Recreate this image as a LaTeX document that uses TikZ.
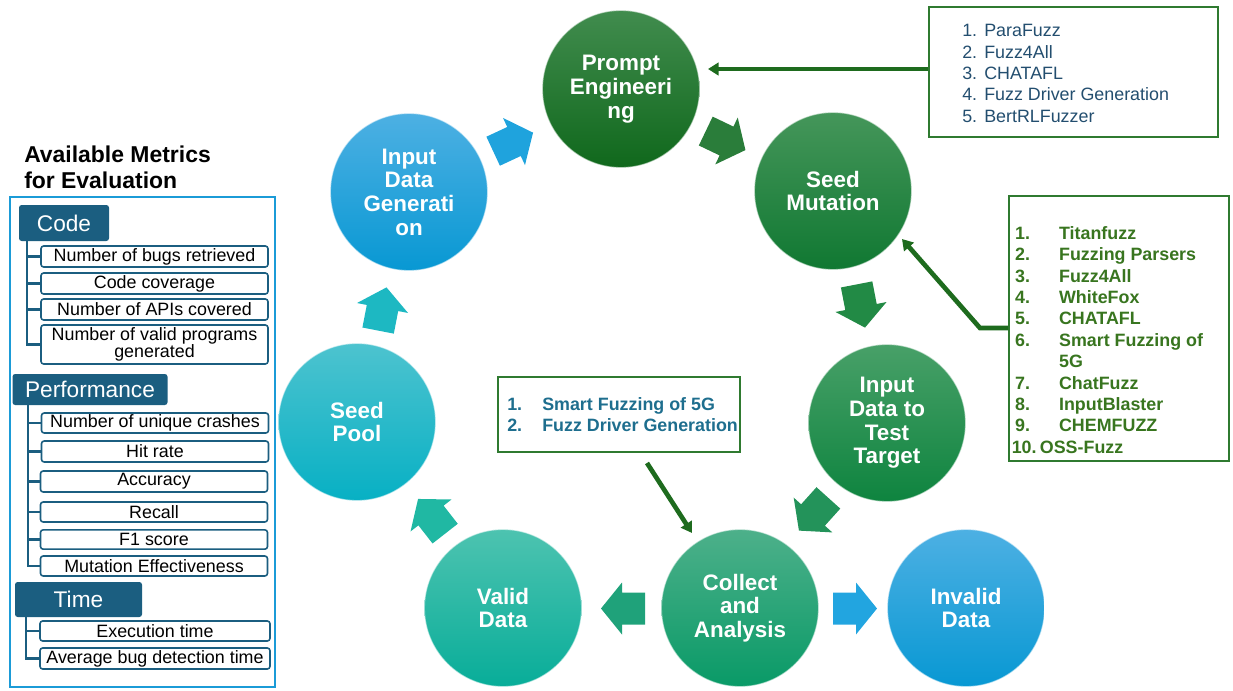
\documentclass[tikz,border=0pt]{standalone}
\usepackage{fontspec}
\setmainfont{Liberation Sans}
\usetikzlibrary{arrows.meta}
\definecolor{hdrc}{HTML}{1B5E80}
\definecolor{panelc}{HTML}{1B9BD7}
\definecolor{boxg}{HTML}{2F7A30}
\definecolor{lineg}{HTML}{1E6B1E}
\definecolor{trc}{HTML}{234E6F}
\definecolor{rbc}{HTML}{38751F}
\definecolor{mbc}{HTML}{1E6E8E}
\definecolor{peT}{HTML}{418C4E}\definecolor{peB}{HTML}{10681C}
\definecolor{smT}{HTML}{45965A}\definecolor{smB}{HTML}{107832}
\definecolor{itT}{HTML}{48A068}\definecolor{itB}{HTML}{0E843F}
\definecolor{caT}{HTML}{4DB08A}\definecolor{caB}{HTML}{099A67}
\definecolor{vdT}{HTML}{4DC3B0}\definecolor{vdB}{HTML}{08AD99}
\definecolor{spT}{HTML}{4DC3CF}\definecolor{spB}{HTML}{07B0C4}
\definecolor{igT}{HTML}{4DB0E3}\definecolor{igB}{HTML}{0898D3}
\definecolor{aA}{HTML}{1FA3DD}
\definecolor{aB}{HTML}{2A7D3A}
\definecolor{aC}{HTML}{228A45}
\definecolor{aD}{HTML}{23935A}
\definecolor{aE}{HTML}{1FA27A}
\definecolor{aF}{HTML}{22A5E0}
\definecolor{aG}{HTML}{20B8A3}
\definecolor{aH}{HTML}{1DB8C2}
\newcommand\blkarrow[4]{\fill[#4,shift={(#1,#2)},rotate=#3] (-23,-16) -- (0,-16) -- (0,-26) -- (21,0) -- (0,26) -- (0,16) -- (-23,16) -- cycle;}
\begin{document}
\begin{tikzpicture}[x=0.75pt,y=-0.75pt,
 circ/.style={circle,minimum size=118pt,inner sep=0pt,align=center,text=white,font=\bfseries\fontsize{16.8}{17.8}\selectfont,draw=white,draw opacity=0.55,line width=0.9pt},
 gline/.style={draw=lineg,line width=3.5pt,-{Triangle[length=8pt,width=9.5pt]}},
 hdr/.style={fill=hdrc,rounded corners=2pt,text=white,font=\fontsize{17}{20}\selectfont,inner sep=0pt},
 item/.style={draw=hdrc,line width=1.2pt,rounded corners=2pt,fill=white,inner sep=0pt,align=center,font=\fontsize{13.4}{12.6}\selectfont,minimum width=170.25pt},
 trunk/.style={draw=hdrc,line width=1.6pt},
 lbox/.style={draw=boxg,line width=1.5pt,inner sep=0pt}]
\useasboundingbox (0,0) rectangle (1233,690);
% ---- left panel ----
\node[anchor=north west,inner sep=0pt,align=left,font=\bfseries\fontsize{17.2}{19.5}\selectfont] (title) at (24,146) {Available Metrics\\for Evaluation};
\node[draw=panelc,line width=1.5pt,minimum width=198.75pt,minimum height=367.5pt,inner sep=0pt] (panel) at (142.5,442) {};
\node[hdr,minimum width=67.5pt,minimum height=27pt] (code) at (64,223) {Code};
\node[hdr,minimum width=116.25pt,minimum height=23.25pt] (perf) at (90,389.5) {Performance};
\node[hdr,minimum width=95.25pt,minimum height=26.25pt] (time) at (78.5,599.5) {Time};
\node[item,minimum height=15.75pt] (c1) at (154.5,256.5) {Number of bugs retrieved};
\node[item,minimum height=15.75pt] (c2) at (154.5,283.5) {Code coverage};
\node[item,minimum height=15.75pt] (c3) at (154.5,309.5) {Number of APIs covered};
\node[item,minimum height=29.25pt] (c4) at (154.5,344.5) {Number of valid programs\\generated};
\node[item,minimum height=15pt] (p1) at (155,423) {Number of unique crashes};
\node[item,minimum height=15.75pt] (p2) at (155,451.5) {Hit rate};
\node[item,minimum height=15.75pt] (p3) at (154,481.5) {Accuracy};
\node[item,minimum height=15pt] (p4) at (154,512) {Recall};
\node[item,minimum height=14.5pt] (p5) at (154,539.5) {F1 score};
\node[item,minimum height=15pt] (p6) at (154,566) {Mutation Effectiveness};
\node[item,minimum height=15pt,minimum width=172.5pt] (t1) at (155,631) {Execution time};
\node[item,minimum height=15.75pt,minimum width=172.5pt] (t2) at (155,658.5) {Average bug detection time};
\coordinate (ctop) at (27,241);
\coordinate (ptop) at (28,405);
\coordinate (ttop) at (26,617);
\draw[trunk] (ctop) |- (c4.west);
\foreach \n in {c1,c2,c3} \draw[trunk] (ctop |- \n.west) -- (\n.west);
\draw[trunk] (ptop) |- (p6.west);
\foreach \n in {p1,p2,p3,p4,p5} \draw[trunk] (ptop |- \n.west) -- (\n.west);
\draw[trunk] (ttop) |- (t2.west);
\draw[trunk] (ttop |- t1.west) -- (t1.west);
% ---- circles ----
\node[circ,top color=peT,bottom color=peB] (pe) at (621,89) {Prompt\\Engineeri\\ng};
\node[circ,top color=smT,bottom color=smB] (sm) at (833,191) {Seed\\Mutation};
\node[circ,top color=itT,bottom color=itB] (it) at (887,423) {Input\\Data to\\Test\\Target};
\node[circ,top color=caT,bottom color=caB] (ca) at (740,608) {Collect\\and\\Analysis};
\node[circ,top color=vdT,bottom color=vdB] (vd) at (503,608) {Valid\\Data};
\node[circ,top color=spT,bottom color=spB] (sp) at (357,422) {Seed\\Pool};
\node[circ,top color=igT,bottom color=igB] (ig) at (409,192) {Input\\Data\\Generati\\on};
\node[circ,top color=igT,bottom color=igB] (iv) at (966,608) {Invalid\\Data};
% ---- block arrows ----
\blkarrow{514}{141.5}{25}{aA}
\blkarrow{726.5}{141}{-25.6}{aB}
\blkarrow{861}{307}{-79}{aC}
\blkarrow{813}{515}{228}{aD}
\blkarrow{622}{608.5}{180}{aE}
\blkarrow{856}{608.5}{0}{aF}
\blkarrow{431}{515.5}{128}{aG}
\blkarrow{382.5}{308}{79}{aH}
% ---- reference boxes ----
\node[lbox,minimum width=216.75pt,minimum height=97.5pt] (tr) at (1073.5,72) {};
\node[anchor=west,inner sep=0pt,align=left,text=trc,font=\fontsize{13.4}{16}\selectfont] (trt) at (962,73.5) {\makebox[16.5pt][l]{1.}ParaFuzz\\\makebox[16.5pt][l]{2.}Fuzz4All\\\makebox[16.5pt][l]{3.}CHATAFL\\\makebox[16.5pt][l]{4.}Fuzz Driver Generation\\\makebox[16.5pt][l]{5.}BertRLFuzzer};
\node[lbox,minimum width=165pt,minimum height=198.75pt] (rb) at (1119,328.5) {};
\node[anchor=west,inner sep=0pt,align=left,text=rbc,font=\bfseries\fontsize{13.4}{16.05}\selectfont] (rbt) at (1011.5,340) {\hspace*{2.5pt}\makebox[33pt][l]{1.}Titanfuzz\\\hspace*{2.5pt}\makebox[33pt][l]{2.}Fuzzing Parsers\\\hspace*{2.5pt}\makebox[33pt][l]{3.}Fuzz4All\\\hspace*{2.5pt}\makebox[33pt][l]{4.}WhiteFox\\\hspace*{2.5pt}\makebox[33pt][l]{5.}CHATAFL\\\hspace*{2.5pt}\makebox[33pt][l]{6.}Smart Fuzzing of\\\hspace*{35.5pt}5G\\\hspace*{2.5pt}\makebox[33pt][l]{7.}ChatFuzz\\\hspace*{2.5pt}\makebox[33pt][l]{8.}InputBlaster\\\hspace*{2.5pt}\makebox[33pt][l]{9.}CHEMFUZZ\\10.\hspace{2.5pt}OSS-Fuzz};
\node[lbox,minimum width=181.5pt,minimum height=56.25pt] (mb) at (619,414.5) {};
\node[anchor=west,inner sep=0pt,align=left,text=mbc,font=\bfseries\fontsize{13.4}{15.75}\selectfont] (mbt) at (507,414.5) {\makebox[26.25pt][l]{1.}Smart Fuzzing of 5G\\\makebox[26.25pt][l]{2.}Fuzz Driver Generation};
% ---- connectors ----
\coordinate (petip) at (708,69);
\draw[gline] (tr.west |- petip) -- (petip);
\coordinate (bend) at (980,328);
\coordinate (smtip) at (902,239);
\draw[gline] (rb.west |- bend) -- (bend) -- (smtip);
\coordinate (mbs) at (647,463);
\coordinate (catip) at (692,533);
\draw[gline] (mbs) -- (catip);
\end{tikzpicture}
\end{document}
